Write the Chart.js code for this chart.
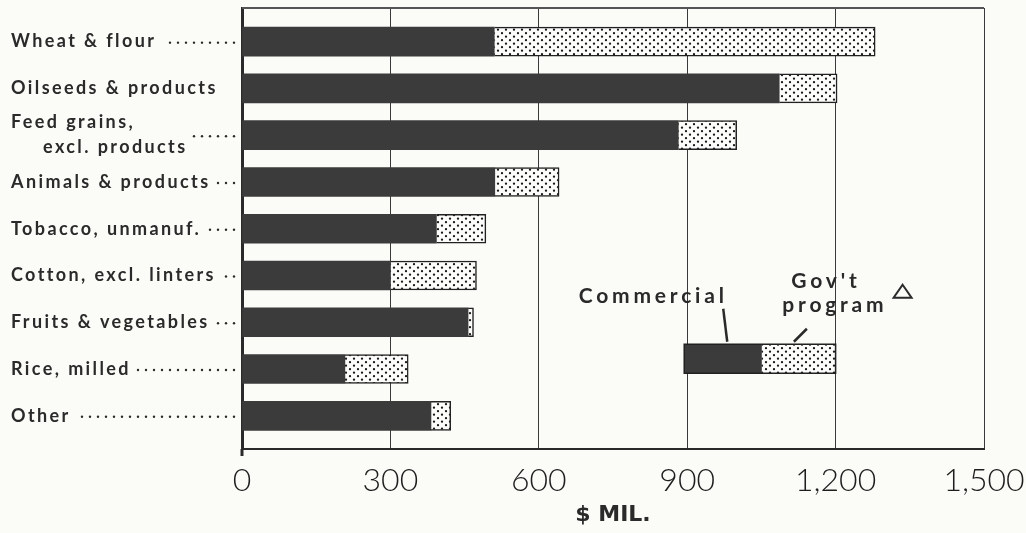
<!DOCTYPE html>
<html><head><meta charset="utf-8">
<script src="https://cdn.jsdelivr.net/npm/chart.js@4.4.0/dist/chart.umd.min.js"></script>
<style>
html,body{margin:0;padding:0;background:#fbfbf8;}
#wrap{width:1026px;height:533px;position:relative;}
</style>
</head><body>
<div id="wrap"><canvas id="c"></canvas></div>
<script>
// ---- data ----
const categories = [
  ['Wheat & flour'],
  ['Oilseeds & products'],
  ['Feed grains,', 'excl. products'],
  ['Animals & products'],
  ['Tobacco, unmanuf.'],
  ['Cotton, excl. linters'],
  ['Fruits & vegetables'],
  ['Rice, milled'],
  ['Other']
];
const hasLeader = [true, false, true, true, true, true, true, true, true];
const commercial = [510, 1086, 882, 511, 393, 300, 457, 208, 382];
const govProgram = [770, 117, 118, 130, 100, 174, 11, 128, 40];
const xTickValues = [0, 300, 600, 900, 1200, 1500];
const xTickLabels = ['0', '300', '600', '900', '1,200', '1,500'];
const axisTitle = '$ MIL.';
const legendLabels = ['Commercial', "Gov't", 'program'];
const legendSample = [894, 157, 149]; // start, commercial part, gov't part ($ mil.)
const legendRow = 6.78;

// ---- styles ----
const INK = '#2a2a2a';
const DARK = '#3b3b3b';
const BAR_H = 29;
function makePattern() {
  const c = document.createElement('canvas');
  c.width = 8; c.height = 7;
  const g = c.getContext('2d');
  g.fillStyle = '#fcfcfa'; g.fillRect(0, 0, 8, 7);
  g.fillStyle = '#1a1a1a';
  g.beginPath(); g.arc(2, 1.7, 1.15, 0, Math.PI * 2); g.fill();
  g.beginPath(); g.arc(6, 5.2, 1.15, 0, Math.PI * 2); g.fill();
  return document.getElementById('c').getContext('2d').createPattern(c, 'repeat');
}
const DOTS = makePattern();

const labelPlugin = {
  id: 'labels',
  afterDraw(chart) {
    const ctx = chart.ctx, ys = chart.scales.y, a = chart.chartArea;
    ctx.save();
    ctx.fillStyle = INK;
    ctx.font = '700 18px Lato';
    ctx.letterSpacing = '2.4px';
    ctx.textBaseline = 'middle';
    ctx.textAlign = 'left';
    const left = 11, axisX = a.left;
    categories.forEach((lines, i) => {
      const yc = ys.getPixelForValue(i);
      let maxEnd = 0;
      lines.forEach((t, k) => {
        const x = left + (k > 0 ? 32 : 0);
        const y = lines.length > 1 ? yc - 13 + k * 25 : yc;
        ctx.fillText(t, x, y);
        maxEnd = Math.max(maxEnd, x + ctx.measureText(t).width);
      });
      if (!hasLeader[i]) return;
      for (let dx = axisX - 8; dx >= maxEnd + 6; dx -= 8) {
        ctx.beginPath(); ctx.arc(dx, yc + 1, 1.2, 0, Math.PI * 2); ctx.fill();
      }
    });
    ctx.restore();
  }
};

const framePlugin = {
  id: 'frame',
  beforeDatasetsDraw(chart) {
    const ctx = chart.ctx, a = chart.chartArea;
    ctx.save();
    ctx.strokeStyle = '#555';
    ctx.lineWidth = 2;
    ctx.beginPath(); ctx.moveTo(a.left, a.top); ctx.lineTo(a.right, a.top); ctx.stroke();
    ctx.strokeStyle = INK; ctx.lineWidth = 3;
    ctx.beginPath(); ctx.moveTo(a.left, a.bottom); ctx.lineTo(a.left, a.bottom + 7); ctx.stroke();
    ctx.restore();
  }
};

const legendPlugin = {
  id: 'legendSample',
  afterDatasetsDraw(chart) {
    const ctx = chart.ctx, xs = chart.scales.x, ys = chart.scales.y;
    const x0 = xs.getPixelForValue(legendSample[0]);
    const x1 = xs.getPixelForValue(legendSample[0] + legendSample[1]);
    const x2 = xs.getPixelForValue(legendSample[0] + legendSample[1] + legendSample[2]);
    const yc = ys.getPixelForValue(legendRow);
    const h = BAR_H;
    ctx.save();
    ctx.fillStyle = DARK; ctx.fillRect(x0, yc - h / 2, x1 - x0, h);
    ctx.fillStyle = DOTS; ctx.fillRect(x1, yc - h / 2, x2 - x1, h);
    ctx.strokeStyle = '#222'; ctx.lineWidth = 1.5;
    ctx.strokeRect(x0, yc - h / 2, x2 - x0, h);
    ctx.fillStyle = INK;
    ctx.font = '700 21px Lato';
    ctx.letterSpacing = '3.8px';
    ctx.textAlign = 'center'; ctx.textBaseline = 'middle';
    ctx.fillText(legendLabels[0], x0 - 31, yc - 63);
    ctx.fillText(legendLabels[1], x1 + 64, yc - 78);
    ctx.fillText(legendLabels[2], x1 + 73, yc - 54);
    ctx.strokeStyle = INK; ctx.lineWidth = 2;
    const tx = x2 + 67, ty = yc - 67;
    ctx.beginPath(); ctx.moveTo(tx, ty - 7); ctx.lineTo(tx + 9, ty + 6); ctx.lineTo(tx - 9, ty + 6); ctx.closePath(); ctx.stroke();
    ctx.lineWidth = 2.5;
    ctx.beginPath(); ctx.moveTo(x0 + 39, yc - 50); ctx.lineTo(x0 + 43, yc - 17); ctx.stroke();
    ctx.beginPath(); ctx.moveTo(x1 + 45, yc - 30); ctx.lineTo(x1 + 32, yc - 17); ctx.stroke();
    ctx.restore();
  }
};

const bgPlugin = {
  id: 'bg',
  beforeDraw(chart) {
    const ctx = chart.ctx;
    ctx.save(); ctx.fillStyle = '#fbfbf8'; ctx.fillRect(0, 0, chart.width, chart.height); ctx.restore();
  }
};

new Chart(document.getElementById('c'), {
  type: 'bar',
  data: {
    datasets: [
      {
        label: 'Commercial',
        data: commercial.map((v, i) => ({ x: v, y: i })),
        backgroundColor: DARK,
        borderWidth: 0
      },
      {
        label: "Gov't program",
        data: govProgram.map((v, i) => ({ x: v, y: i })),
        backgroundColor: DOTS,
        borderColor: '#222',
        borderWidth: 1.5
      }
    ]
  },
  options: {
    indexAxis: 'y',
    responsive: true,
    maintainAspectRatio: false,
    animation: false,
    barThickness: BAR_H,
    layout: { padding: { left: 242, right: 42, top: 8, bottom: 0 } },
    plugins: { legend: { display: false }, tooltip: { enabled: false } },
    scales: {
      x: {
        type: 'linear', stacked: true, min: 0, max: 1500,
        afterBuildTicks(s) { s.ticks = xTickValues.map(v => ({ value: v })); },
        afterFit(s) { s.height = 84; s.paddingLeft = 0; s.paddingRight = 0; },
        ticks: {
          callback: (v) => xTickLabels[xTickValues.indexOf(v)],
          font: { family: 'Lato', weight: '300', size: 32 },
          color: '#1e1e1e', padding: 12, maxRotation: 0, autoSkip: false
        },
        grid: { color: '#3a3a3a', lineWidth: 1, drawTicks: false },
        border: { display: true, color: INK, width: 2 },
        title: {
          display: true, text: axisTitle, color: INK,
          font: { family: 'DejaVu Sans', weight: '700', size: 22 },
          padding: { top: 0, bottom: 5 }
        }
      },
      y: {
        type: 'linear', stacked: true, reverse: true, offset: false,
        min: -0.72, max: 8.71,
        afterBuildTicks(s) { s.ticks = categories.map((c, i) => ({ value: i })); },
        ticks: { display: false },
        grid: { display: false, drawTicks: false, offset: false },
        border: { display: true, color: INK, width: 3 }
      }
    }
  },
  plugins: [bgPlugin, framePlugin, labelPlugin, legendPlugin]
});
</script>
</body></html>
